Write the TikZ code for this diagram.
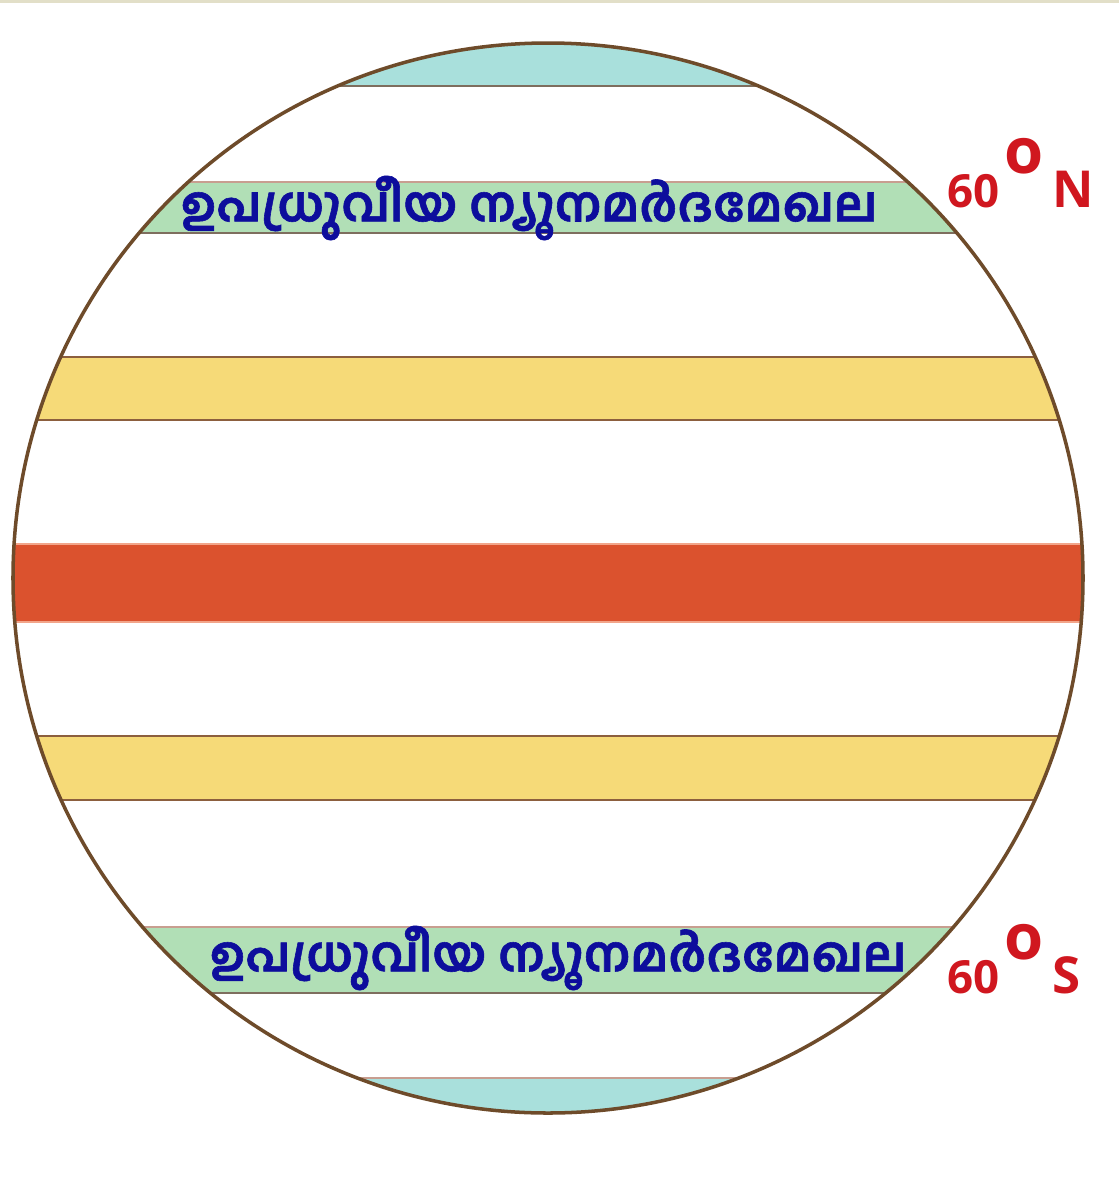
\documentclass[tikz,border=0pt]{standalone}
\usepackage{fontspec}
\setmainfont{Open Sans}
\newfontfamily\malfont[Script=Malayalam,BoldFeatures={FakeBold=1.2}]{Hind Kochi}
\usetikzlibrary{positioning}
\definecolor{zoneBlue}{HTML}{A9E0DC}
\definecolor{zoneGreen}{HTML}{B1DFB6}
\definecolor{zoneYellow}{HTML}{F6DA78}
\definecolor{zoneRed}{HTML}{DB522E}
\definecolor{rimBrown}{HTML}{6E4B2A}
\definecolor{edgeBrown}{HTML}{8C5F3E}
\definecolor{edgePink}{HTML}{C89E90}
\definecolor{edgeGray}{HTML}{7E6E5E}
\definecolor{edgeOrange}{HTML}{F2A58A}
\definecolor{textBlue}{HTML}{0D0D9C}
\definecolor{latRed}{HTML}{D0171F}
\definecolor{frameBeige}{HTML}{E2DFC8}

\begin{document}
\begin{tikzpicture}[x=0.02cm,y=-0.02cm,
  zonelabel/.style={font=\malfont\bfseries\fontsize{27.6}{30}\selectfont,text=textBlue,inner sep=0pt},
  latlabel/.style={font=\bfseries\fontsize{26}{30}\selectfont,text=latRed,inner sep=0pt,anchor=base west}]
\newcommand{\zoneband}[5]{% top, bottom, fill, top edge, bottom edge
  \fill[#3] (0,#1) rectangle (1119,#2);
  \draw[#4,line width=1.5pt] (0,#1) -- (1119,#1);
  \draw[#5,line width=1.5pt] (0,#2) -- (1119,#2);
}
\newcommand{\latring}{\raisebox{19pt}{\fontsize{36}{38}\selectfont o}}
\useasboundingbox (0,0) rectangle (1119,1178);
\fill[white] (0,0) rectangle (1119,1178);
\fill[frameBeige] (0,0) rectangle (1119,3);

\begin{scope}
  \clip (548,578) circle[radius=535];
  \zoneband{20}{86}{zoneBlue}{edgeGray}{edgeGray}
  \zoneband{182}{233}{zoneGreen}{edgePink}{edgeGray}
  \zoneband{357}{420}{zoneYellow}{edgeBrown}{edgeBrown}
  \zoneband{544}{622}{zoneRed}{edgeOrange}{edgeOrange}
  \zoneband{736}{800}{zoneYellow}{edgeBrown}{edgeBrown}
  \zoneband{927}{993}{zoneGreen}{edgePink}{edgeGray}
  \zoneband{1078}{1150}{zoneBlue}{edgePink}{edgePink}
\end{scope}
\draw[rimBrown,line width=2pt] (548,578) circle[radius=535];

\node[zonelabel] (upperzone) at (529,208) {ഉപധ്രുവീയ ന്യൂനമർദമേഖല};
\node[zonelabel] (lowerzone) at (558,958) {ഉപധ്രുവീയ ന്യൂനമർദമേഖല};

\node[latlabel] (latnorth) at (947,207) {60\hspace{3pt}\latring\hspace{5pt}{\fontsize{29}{30}\selectfont N}};
\node[latlabel] (latsouth) at (947,993) {60\hspace{3pt}\latring\hspace{5pt}{\fontsize{29}{30}\selectfont S}};
\end{tikzpicture}
\end{document}
